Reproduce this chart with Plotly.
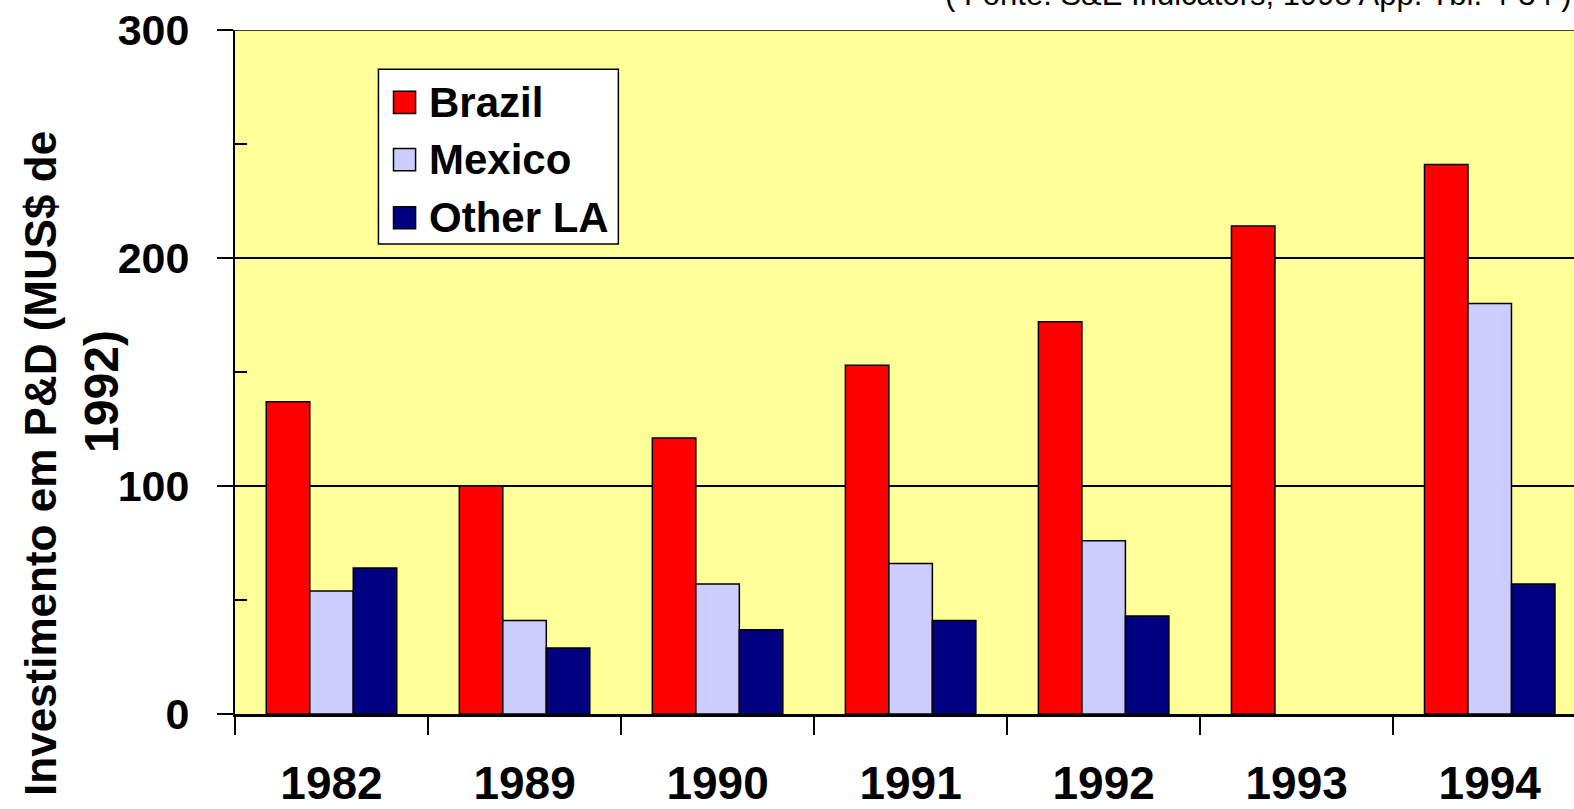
import plotly.graph_objects as go

# R&D investment by country group, millions of 1992 US$
years = ["1982", "1989", "1990", "1991", "1992", "1993", "1994"]
brazil = [137, 100, 121, 153, 172, 214, 241]
mexico = [54, 41, 57, 66, 76, None, 180]
other_la = [64, 29, 37, 41, 43, None, 57]

series_names = ["Brazil", "Mexico", "Other LA"]
series_colors = ["#FF0000", "#CCCCFF", "#000080"]
y_ticks = [0, 100, 200, 300]
y_minor = [50, 150, 250]

FONT = "Arial, 'Liberation Sans', sans-serif"

W, H = 1574, 809
L, R, T, B = 235, 0, 30, 95
PW, PH = W - L - R, H - T - B
K = W / 1568  # layout sketch units -> pixels


def px_x(x):
    return (x * K - L) / PW


def px_y(y):
    return (H - B - y * K) / PH


fig = go.Figure()
for name, vals, color in zip(series_names, [brazil, mexico, other_la], series_colors):
    fig.add_trace(go.Bar(
        name=name, x=years, y=vals,
        marker=dict(color=color, line=dict(color="black", width=1.5)),
        showlegend=False,
    ))

# Boxed legend drawn with shapes + text
shapes = [dict(type="rect", xref="paper", yref="paper",
               x0=px_x(377), x1=px_x(616), y0=px_y(243), y1=px_y(69),
               fillcolor="white", line=dict(color="black", width=1.5), layer="above")]
annotations = []
row_y = [102, 159, 217]
for name, color, cy in zip(series_names, series_colors, row_y):
    shapes.append(dict(type="rect", xref="paper", yref="paper",
                       x0=px_x(392), x1=px_x(414), y0=px_y(cy + 11), y1=px_y(cy - 11),
                       fillcolor=color, line=dict(color="black", width=1.5), layer="above"))
    annotations.append(dict(text=f"<b>{name}</b>", xref="paper", yref="paper",
                            x=px_x(425), y=px_y(cy), xanchor="left", yanchor="middle",
                            showarrow=False, font=dict(family=FONT, size=42, color="black")))

# top border / 300 gridline
shapes.append(dict(type="line", xref="paper", yref="y", x0=0, x1=1, y0=300, y1=300,
                   line=dict(color="black", width=1.5)))

# y-axis title, two lines
annotations.append(dict(text="<b>Investimento em P&D (MUS$ de</b>", xref="paper", yref="paper",
                        x=px_x(41), y=px_y(462), xanchor="center", yanchor="middle",
                        textangle=-90, showarrow=False,
                        font=dict(family=FONT, size=44, color="black")))
annotations.append(dict(text="<b>1992)</b>", xref="paper", yref="paper",
                        x=px_x(101), y=px_y(390), xanchor="center", yanchor="middle",
                        textangle=-90, showarrow=False,
                        font=dict(family=FONT, size=48, color="black")))

# source note
annotations.append(dict(text="( Fonte: S&E Indicators, 1998 App. Tbl. 4-34 )",
                        xref="paper", yref="paper", x=px_x(1568), y=1 + 16 / PH,
                        xanchor="right", yanchor="bottom", showarrow=False,
                        font=dict(family=FONT, size=31, color="black")))

fig.update_layout(
    width=W, height=H, autosize=False,
    margin=dict(l=L, r=R, t=T, b=B, pad=0, autoexpand=False),
    paper_bgcolor="white", plot_bgcolor="#FFFF99",
    barmode="group", bargap=0.324, bargroupgap=0,
    shapes=shapes, annotations=annotations,
    font=dict(family=FONT, color="black"),
)
fig.update_xaxes(
    type="category", range=[-0.5, -0.5 + PW / (192.3 * K)],
    automargin=False,
    showline=True, linecolor="black", linewidth=2.5,
    ticks="outside", tickson="boundaries", ticklen=18, tickwidth=1.5, tickcolor="black",
    tickfont=dict(family=FONT, size=46, color="black"),
    ticklabelstandoff=27,
    showgrid=False, zeroline=False,
    tickprefix="<b>", ticksuffix="</b>",
)
fig.update_yaxes(
    range=[0, 300], tickvals=y_ticks,
    ticktext=[f"<b>{v}</b>" for v in y_ticks],
    automargin=False,
    showline=True, linecolor="black", linewidth=2,
    ticks="outside", ticklen=16, tickwidth=1.5, tickcolor="black",
    tickfont=dict(family=FONT, size=43, color="black"),
    ticklabelstandoff=19,
    showgrid=True, gridcolor="black", gridwidth=1.5,
    zeroline=False,
    minor=dict(tickvals=y_minor, ticks="inside", ticklen=12, tickwidth=1.5,
               tickcolor="black", showgrid=False),
)

fig.write_html("out.html")
